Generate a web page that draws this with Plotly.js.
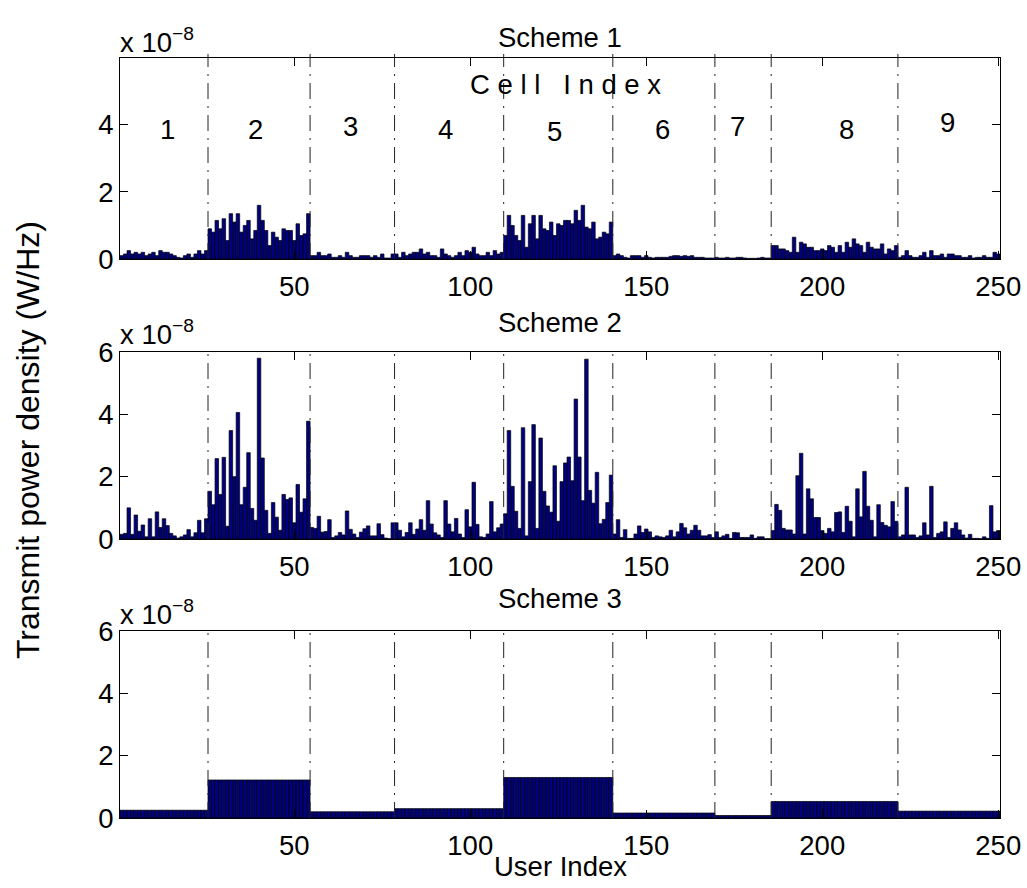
<!DOCTYPE html>
<html><head><meta charset="utf-8">
<script src="https://cdn.plot.ly/plotly-3.0.1.min.js"></script>
<style>body{margin:0;background:#fff}#chart{width:1027px;height:888px}</style>
</head><body><div id="chart"></div>
<script>
// values are in units of 1e-8 W/Hz
const valueExponent = -8;
const cellLabels = ['1','2','3','4','5','6','7','8','9'];
const cellSizes = [25, 29, 24, 31, 31, 29, 16, 36, 29];
const cellBoundaries = [25.5, 54.5, 78.5, 109.5, 140.5, 169.5, 185.5, 221.5];
const cellLabelX = [14, 39, 66, 93, 124, 154.5, 176, 207, 235.5];
const cellLabelY = [3.85, 3.85, 3.94, 3.85, 3.8, 3.85, 3.94, 3.85, 4.06];
const schemeTitles = ['Scheme 1', 'Scheme 2', 'Scheme 3'];
const xTickVals = [50, 100, 150, 200, 250];

const scheme1 = [
  0.10,0.15,0.25,0.15,0.20,0.15,0.20,0.10,0.15,0.20,0.10,0.25,0.20,0.20,0.15,0.10,0.05,0.03,0.10,0.15,0.05,0.15,0.25,0.15,0.25,
  0.90,0.80,1.15,0.90,1.20,0.55,1.35,1.10,1.35,0.80,1.00,1.15,0.60,0.85,1.60,1.15,0.85,0.40,0.80,0.65,0.55,0.90,0.85,0.85,0.55,1.05,0.70,0.75,1.35,
  0.10,0.10,0.20,0.10,0.10,0.15,0.05,0.05,0.10,0.05,0.20,0.10,0.05,0.05,0.10,0.10,0.10,0.05,0.10,0.05,0.15,0.03,0.03,0.15,
  0.15,0.05,0.20,0.10,0.15,0.20,0.20,0.30,0.15,0.20,0.10,0.10,0.05,0.30,0.15,0.10,0.05,0.10,0.20,0.10,0.25,0.20,0.35,0.15,0.10,0.10,0.20,0.10,0.25,0.15,0.20,
  0.70,1.30,1.00,0.70,0.55,1.30,0.35,1.05,1.30,0.60,1.30,0.90,0.85,1.10,0.70,1.05,1.00,1.15,1.15,1.05,1.45,1.15,1.60,0.95,0.90,1.10,0.60,0.65,0.80,0.75,1.10,
  0.10,0.15,0.10,0.05,0.03,0.10,0.10,0.10,0.05,0.10,0.05,0.03,0.05,0.05,0.05,0.05,0.08,0.10,0.10,0.08,0.10,0.08,0.10,0.05,0.05,0.05,0.03,0.03,0.03,
  0.05,0.03,0.03,0.05,0.03,0.03,0.05,0.05,0.03,0.02,0.02,0.02,0.03,0.05,0.03,0.03,
  0.40,0.40,0.30,0.30,0.25,0.20,0.65,0.20,0.50,0.45,0.35,0.35,0.25,0.25,0.30,0.25,0.40,0.35,0.20,0.40,0.20,0.50,0.35,0.60,0.45,0.40,0.20,0.50,0.35,0.30,0.30,0.45,0.15,0.30,0.25,0.40,
  0.05,0.10,0.25,0.10,0.05,0.05,0.10,0.20,0.05,0.25,0.10,0.10,0.15,0.05,0.15,0.15,0.10,0.10,0.05,0.05,0.10,0.03,0.05,0.05,0.10,0.05,0.05,0.20,0.15
];
const scheme2 = [
  0.15,0.18,1.00,0.15,0.77,0.25,0.45,0.07,0.65,0.07,0.87,0.37,0.65,0.43,0.18,0.10,0.03,0.07,0.13,0.30,0.07,0.20,0.60,0.20,0.65,
  1.53,1.10,2.58,1.43,2.62,0.41,3.48,2.00,4.06,1.10,1.66,2.77,0.98,0.60,5.80,2.60,0.92,0.18,1.17,0.70,0.28,1.43,1.27,1.32,0.52,1.75,0.86,1.29,3.78,
  0.37,0.34,0.73,0.22,0.24,0.62,0.05,0.10,0.21,0.13,0.90,0.31,0.16,0.05,0.22,0.33,0.42,0.10,0.10,0.49,0.14,0.03,0.01,0.52,
  0.52,0.28,0.07,0.21,0.52,0.15,0.32,0.62,0.28,1.23,0.48,0.20,0.13,0.05,1.23,0.48,0.23,0.66,0.16,0.05,0.94,0.39,1.82,0.47,0.07,0.05,0.16,1.20,0.23,0.36,0.48,
  0.81,3.48,1.69,0.89,0.34,3.57,0.10,1.84,3.67,0.34,3.24,1.53,1.06,0.86,2.35,0.57,1.84,2.44,2.63,1.87,4.49,2.63,1.23,5.77,1.56,1.15,2.14,0.49,0.63,1.17,2.05,
  0.16,0.62,0.05,0.30,0.02,0.02,0.16,0.42,0.21,0.32,0.23,0.05,0.10,0.07,0.05,0.10,0.28,0.07,0.23,0.50,0.36,0.16,0.28,0.44,0.28,0.10,0.10,0.14,0.05,
  0.23,0.05,0.10,0.15,0.02,0.21,0.20,0.05,0.05,0.05,0.13,0.02,0.07,0.07,0.01,0.01,
  0.27,1.11,0.92,0.34,0.29,0.29,0.16,2.03,2.75,0.16,1.61,1.29,0.69,0.69,0.27,0.18,0.34,0.23,0.85,0.87,0.21,1.05,0.57,0.07,1.61,0.71,2.17,1.05,0.60,0.07,1.10,0.53,0.44,0.39,1.20,0.57,
  0.07,0.13,1.66,0.13,0.13,0.05,0.10,0.52,0.13,1.69,0.05,0.18,0.23,0.55,0.05,0.34,0.52,0.29,0.13,0.03,0.15,0.02,0.02,0.01,0.07,0.02,1.07,0.23,0.27
];
// Scheme 3: one level per cell (every user of a cell gets the same value)
const scheme3CellLevels = [0.25, 1.22, 0.20, 0.30, 1.30, 0.16, 0.08, 0.53, 0.22];

const users = Array.from({length: 250}, (_, i) => i + 1);
const scheme3 = cellSizes.flatMap((n, k) => Array(n).fill(scheme3CellLevels[k]));

const FONT = 'Liberation Sans, Arial, Helvetica, sans-serif';
const FS = 27.5;
const BAR_COLOR = '#000080';
// plot area spans y = 58..818 px (margin t=58, b=70)
const py = v => (818 - v) / 760;
const px = v => (v - 120) / 880;

const series = [scheme1, scheme2, scheme3];
const traces = series.map((ys, k) => ({
  type: 'bar', x: users, y: ys,
  xaxis: k === 0 ? 'x' : 'x' + (k + 1),
  yaxis: k === 0 ? 'y' : 'y' + (k + 1),
  marker: {color: BAR_COLOR, line: {color: '#000000', width: 0.7}},
  hoverinfo: 'x+y', showlegend: false
}));

const domains = [[py(259), 1], [py(539), py(352)], [0, py(631)]];
const yRanges = [[0, 5.99], [0, 6], [0, 6]];
const yTicks = [[0, 2, 4], [0, 2, 4, 6], [0, 2, 4, 6]];

const axisCommon = {
  showline: true, linecolor: '#000', linewidth: 1, mirror: 'ticks',
  ticks: 'inside', ticklen: 8, tickcolor: '#000', tickwidth: 1,
  showgrid: false, zeroline: false,
  tickfont: {family: FONT, size: FS, color: '#000'}
};

const layout = {
  width: 1027, height: 888,
  margin: {l: 120, r: 27, t: 58, b: 70},
  paper_bgcolor: '#fff', plot_bgcolor: '#fff',
  bargap: 0,
  font: {family: FONT, color: '#000'},
  shapes: [], annotations: []
};

for (let k = 0; k < 3; k++) {
  const s = k === 0 ? '' : String(k + 1);
  layout['xaxis' + s] = Object.assign({}, axisCommon, {
    domain: [0, 1], range: [0.5, 250.5], anchor: 'y' + s,
    tickmode: 'array', tickvals: xTickVals, ticklabelstandoff: 3
  });
  layout['yaxis' + s] = Object.assign({}, axisCommon, {
    domain: domains[k], range: yRanges[k], anchor: 'x' + s,
    tickmode: 'array', tickvals: yTicks[k], ticklabelstandoff: 0
  });
  cellBoundaries.forEach(b => layout.shapes.push({
    type: 'line', xref: 'x' + s, yref: 'y' + s + ' domain',
    x0: b, x1: b, y0: 0, y1: 1.02, layer: 'above',
    line: {color: '#222', width: 1, dash: '16px,7px,2px,7px'}
  }));
}

const titleY = [37.5, 322, 598];
const expY = [40, 333, 612];
for (let k = 0; k < 3; k++) {
  layout.annotations.push({
    xref: 'paper', yref: 'paper', x: 0.5, y: py(titleY[k]),
    xanchor: 'center', yanchor: 'middle', showarrow: false,
    text: schemeTitles[k], font: {family: FONT, size: FS, color: '#000'}
  });
  layout.annotations.push({
    xref: 'paper', yref: 'paper', x: px(118), y: py(expY[k]),
    xanchor: 'left', yanchor: 'middle', showarrow: false,
    text: 'x 10<sup>\u2212' + Math.abs(valueExponent) + '</sup>',
    font: {family: FONT, size: FS, color: '#000'}
  });
}
cellLabels.forEach((t, i) => layout.annotations.push({
  xref: 'x', yref: 'y', x: cellLabelX[i], y: cellLabelY[i],
  xanchor: 'center', yanchor: 'middle', showarrow: false,
  text: t, font: {family: FONT, size: FS, color: '#000'}
}));
layout.annotations.push({
  xref: 'x', yref: 'y', x: 127, y: 5.2, xanchor: 'center', yanchor: 'middle',
  showarrow: false, text: 'C e l l &nbsp;&nbsp;I n d e x',
  font: {family: FONT, size: FS, color: '#000'}
});
layout.annotations.push({
  xref: 'paper', yref: 'paper', x: 0.5, y: py(867),
  xanchor: 'center', yanchor: 'middle', showarrow: false,
  text: 'User Index', font: {family: FONT, size: FS, color: '#000'}
});
layout.annotations.push({
  xref: 'paper', yref: 'paper', x: px(28), y: py(440),
  xanchor: 'center', yanchor: 'middle', showarrow: false, textangle: -90,
  text: 'Transmit power density (W/Hz)', font: {family: FONT, size: 32, color: '#000'}
});

Plotly.newPlot('chart', traces, layout, {displayModeBar: false, staticPlot: true});
</script>
</body></html>
